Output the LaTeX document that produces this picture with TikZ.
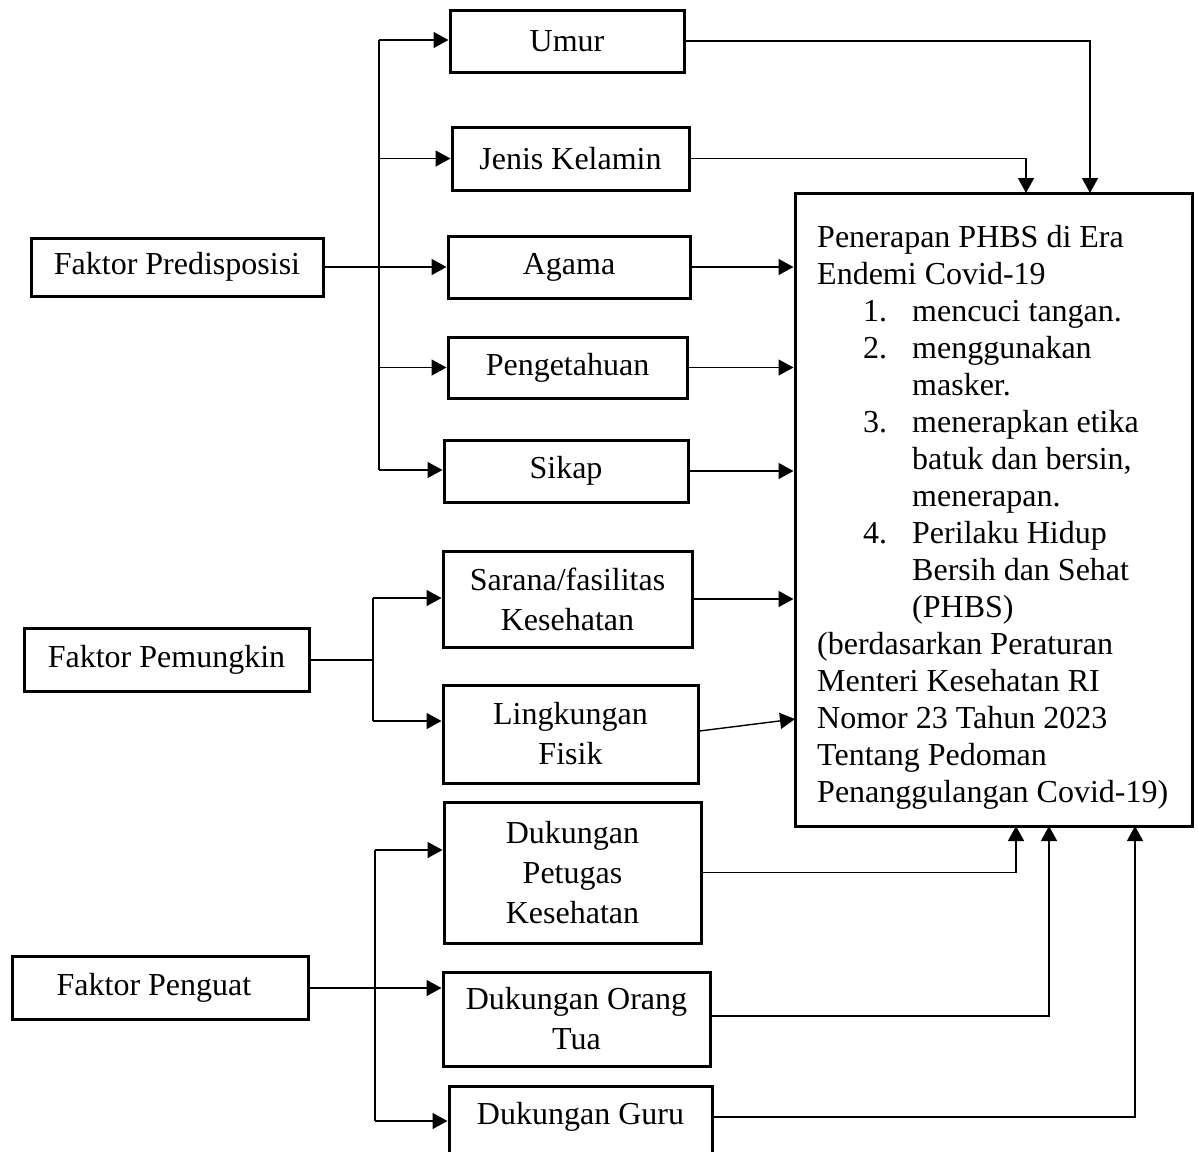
\documentclass[tikz,border=0pt]{standalone}
\usepackage{fontspec}
\setmainfont{Liberation Serif}
\usetikzlibrary{arrows.meta}
\begin{document}
\begin{tikzpicture}[x=1pt,y=-1pt,
  box/.style={draw,line width=3pt,rectangle,inner sep=0pt,align=center,font=\fontsize{32}{40}\selectfont},
  con/.style={line width=1.4pt},
  arr/.style={line width=1.4pt,-{Triangle[length=15pt,width=16pt]}},
  lbl/.style={inner sep=0pt,font=\fontsize{32}{40}\selectfont}]
\useasboundingbox[fill=white] (0,0) rectangle (1198,1151);
% left factor boxes
\node[box,minimum width=292pt,minimum height=58pt] (pred) at (177,267) {Faktor Predisposisi};
\node[box,minimum width=285pt,minimum height=63pt] (pem) at (166.5,660) {Faktor Pemungkin};
\node[box,minimum width=296pt,minimum height=63pt] (peng) at (160,988) {\hspace*{-12pt}Faktor Penguat};
% middle boxes
\node[box,minimum width=234pt,minimum height=62pt] (umur) at (567,41) {Umur};
\node[box,minimum width=237pt,minimum height=63pt] (jk) at (570.5,158.5) {Jenis Kelamin};
\node[box,minimum width=242pt,minimum height=62pt] (agama) at (569,267) {Agama};
\node[box,minimum width=239pt,minimum height=61pt] (peng2) at (567.5,367.5) {Pengetahuan};
\node[box,minimum width=244pt,minimum height=62pt] (sikap) at (566,471) {Sikap};
\node[box,minimum width=249pt,minimum height=96pt] (sar) at (567.5,599) {Sarana/fasilitas\\Kesehatan};
\node[box,minimum width=255pt,minimum height=98pt] (ling) at (570.5,734) {Lingkungan\\Fisik};
\node[box,minimum width=257pt,minimum height=141pt] (pet) at (572.5,872.5) {Dukungan\\Petugas\\Kesehatan};
\node[box,minimum width=267pt,minimum height=94pt] (ot) at (576.5,1019) {Dukungan Orang\\Tua};
\node[box,minimum width=263pt,minimum height=110pt,anchor=north] (guru) at (580.5,1085) {};
\node[lbl] (gurutext) at (580.5,1117) {Dukungan Guru};
% main box
\node[box,minimum width=397pt,minimum height=633pt] (main) at (993.5,509.5) {};
\node[lbl,anchor=north west,align=left,font=\fontsize{32}{37}\selectfont] (maintext) at (817,225) {%
Penerapan PHBS di Era\\
Endemi Covid-19\\
\hspace*{46pt}\makebox[49pt][l]{1.}mencuci tangan.\\
\hspace*{46pt}\makebox[49pt][l]{2.}menggunakan\\
\hspace*{95pt}masker.\\
\hspace*{46pt}\makebox[49pt][l]{3.}menerapkan etika\\
\hspace*{95pt}batuk dan bersin,\\
\hspace*{95pt}menerapan.\\
\hspace*{46pt}\makebox[49pt][l]{4.}Perilaku Hidup\\
\hspace*{95pt}Bersih dan Sehat\\
\hspace*{95pt}(PHBS)\\
(berdasarkan Peraturan\\
Menteri Kesehatan RI\\
Nomor 23 Tahun 2023\\
Tentang Pedoman\\
Penanggulangan Covid-19)};
% coordinates
\coordinate (bA1) at (379,40);
\coordinate (bA2) at (379,470);
\coordinate (bB0) at (373,660);
\coordinate (bB1) at (373,598);
\coordinate (bB2) at (373,721);
\coordinate (bC0) at (375,988);
\coordinate (bC1) at (375,850);
\coordinate (bC2) at (375,1121);
\coordinate (mU) at (1090,193);
\coordinate (mJ) at (1026,193);
\coordinate (mL) at (795,719);
\coordinate (mP) at (1016,826);
\coordinate (mO) at (1049,826);
\coordinate (mG) at (1135,826);
% predisposisi bus
\draw[con] (bA1) -- (bA2);
\draw[arr] (pred.east) -- (agama.west);
\draw[arr] (bA1) -- (umur.west |- bA1);
\draw[arr] (bA1 |- jk.west) -- (jk.west);
\draw[arr] (bA1 |- peng2.west) -- (peng2.west);
\draw[arr] (bA2) -- (sikap.west |- bA2);
% pemungkin bus
\draw[con] (pem.east) -- (bB0);
\draw[con] (bB1) -- (bB2);
\draw[arr] (bB1) -- (sar.west |- bB1);
\draw[arr] (bB2) -- (ling.west |- bB2);
% penguat bus
\draw[con] (peng.east) -- (bC0);
\draw[con] (bC1) -- (bC2);
\draw[arr] (bC1) -- (pet.west |- bC1);
\draw[arr] (bC0) -- (ot.west |- bC0);
\draw[arr] (bC2) -- (guru.west |- bC2);
% into main box
\draw[arr] (umur.east) -| (mU);
\draw[arr] (jk.east) -| (mJ);
\draw[arr] (agama.east) -- (agama.east -| main.west);
\draw[arr] (peng2.east) -- (peng2.east -| main.west);
\draw[arr] (sikap.east) -- (sikap.east -| main.west);
\draw[arr] (sar.east) -- (sar.east -| main.west);
\draw[arr] (ling.east |- 0,731) -- (mL);
\draw[arr] (pet.east) -| (mP);
\draw[arr] (ot.east |- 0,1016) -| (mO);
\draw[arr] (guru.east |- gurutext) -| (mG);
\end{tikzpicture}
\end{document}
